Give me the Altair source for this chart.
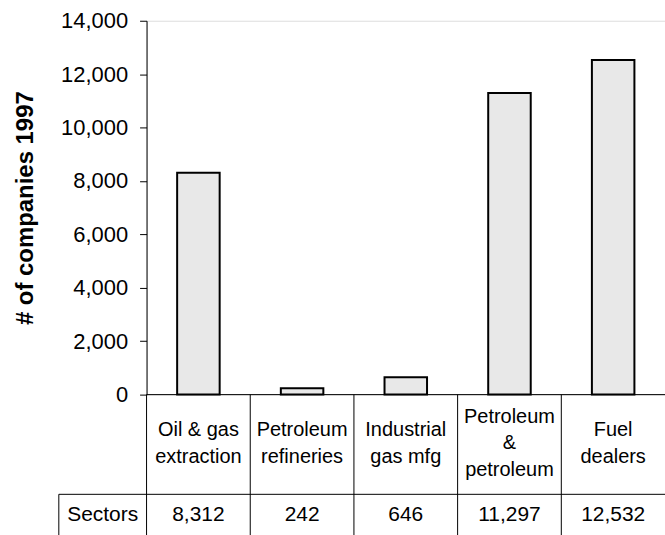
import altair as alt
import pandas as pd

categories = ["Oil & gas extraction", "Petroleum refineries", "Industrial gas mfg",
              "Petroleum & petroleum", "Fuel dealers"]
cell_labels = ["Oil & gas\nextraction", "Petroleum\nrefineries", "Industrial\ngas mfg",
               "Petroleum\n&\npetroleum", "Fuel\ndealers"]
values = [8312, 242, 646, 11297, 12532]
value_labels = ["8,312", "242", "646", "11,297", "12,532"]
y_ticks = [0, 2000, 4000, 6000, 8000, 10000, 12000, 14000]
row_label = "Sectors"
y_title = "# of companies 1997"

FONT = "Liberation Sans"
W, H = 520, 375
LH = 27
ROW1_CENTER = H + 49

df = pd.DataFrame({"cat": categories, "label": cell_labels, "value": values,
                   "vlabel": value_labels})
df["nlines"] = df["label"].str.count("\n") + 1

xscale = alt.Scale(domain=categories, paddingInner=0, paddingOuter=0)
x_enc = alt.X("cat:N", scale=xscale, axis=None, sort=categories)

bars = alt.Chart(df).mark_bar(
    width={"band": 0.41}, fill="#e8e8e8", stroke="black", strokeWidth=2
).encode(
    x=x_enc,
    y=alt.Y("value:Q", scale=alt.Scale(domain=[0, 14000], nice=False),
            axis=alt.Axis(values=y_ticks, format=",.0f", grid=False, title=y_title,
                          labelFont=FONT, labelFontSize=22, labelColor="black",
                          labelPadding=12, tickSize=7, tickColor="black",
                          domainColor="black", titleFont=FONT, titleFontSize=24,
                          titleFontWeight="bold", titleColor="black",
                          titleX=-121, titleY=H / 2, titleAngle=270,
                          titleBaseline="middle", titleAlign="center")),
)

# column separators in the data table
seps = alt.Chart(df[df["cat"] != categories[0]]).mark_rule(color="black", strokeWidth=1).encode(
    x=alt.X("cat:N", scale=xscale, axis=None, sort=categories, bandPosition=0),
    y=alt.value(H),
    y2=alt.value(H + 145),
)

base_rule = alt.Chart(pd.DataFrame({"k": [0]}))
hline_axis = base_rule.mark_rule(color="black", strokeWidth=1).encode(
    x=alt.value(0), x2=alt.value(W), y=alt.value(H))
vline_left = base_rule.mark_rule(color="black", strokeWidth=1).encode(
    x=alt.value(0), y=alt.value(H), y2=alt.value(H + 145))
hline_row = base_rule.mark_rule(color="black", strokeWidth=1).encode(
    x=alt.value(-88), x2=alt.value(W), y=alt.value(H + 100))
vline_sectors = base_rule.mark_rule(color="black", strokeWidth=1).encode(
    x=alt.value(-88), y=alt.value(H + 100), y2=alt.value(H + 145))
hline_bottom = base_rule.mark_rule(color="black", strokeWidth=1).encode(
    x=alt.value(-88), x2=alt.value(W), y=alt.value(H + 143))

text_layers = []
for n in sorted(df["nlines"].unique()):
    sub = df[df["nlines"] == n]
    text_layers.append(
        alt.Chart(sub).mark_text(
            font=FONT, fontSize=20, color="black", lineBreak="\n", lineHeight=LH,
            baseline="middle", align="center"
        ).encode(x=x_enc, y=alt.value(ROW1_CENTER - (n - 1) * LH / 2), text="label:N")
    )

val_text = alt.Chart(df).mark_text(
    font=FONT, fontSize=21, color="black", baseline="middle", align="center"
).encode(x=x_enc, y=alt.value(H + 121), text="vlabel:N")

sectors_text = base_rule.mark_text(
    font=FONT, fontSize=21, color="black", baseline="middle", align="center"
).encode(x=alt.value(-44), y=alt.value(H + 121), text=alt.value(row_label))

chart = alt.layer(
    bars, seps, hline_axis, vline_left, hline_row, vline_sectors, hline_bottom,
    *text_layers, val_text, sectors_text
).properties(
    width=W, height=H,
    autosize=alt.AutoSizeParams(type="none"),
    padding={"left": 147, "top": 20, "right": 0, "bottom": 140},
).configure_view(stroke=None).configure(background="white")

chart.save("out.html", embed_options={"renderer": "svg", "actions": False})
